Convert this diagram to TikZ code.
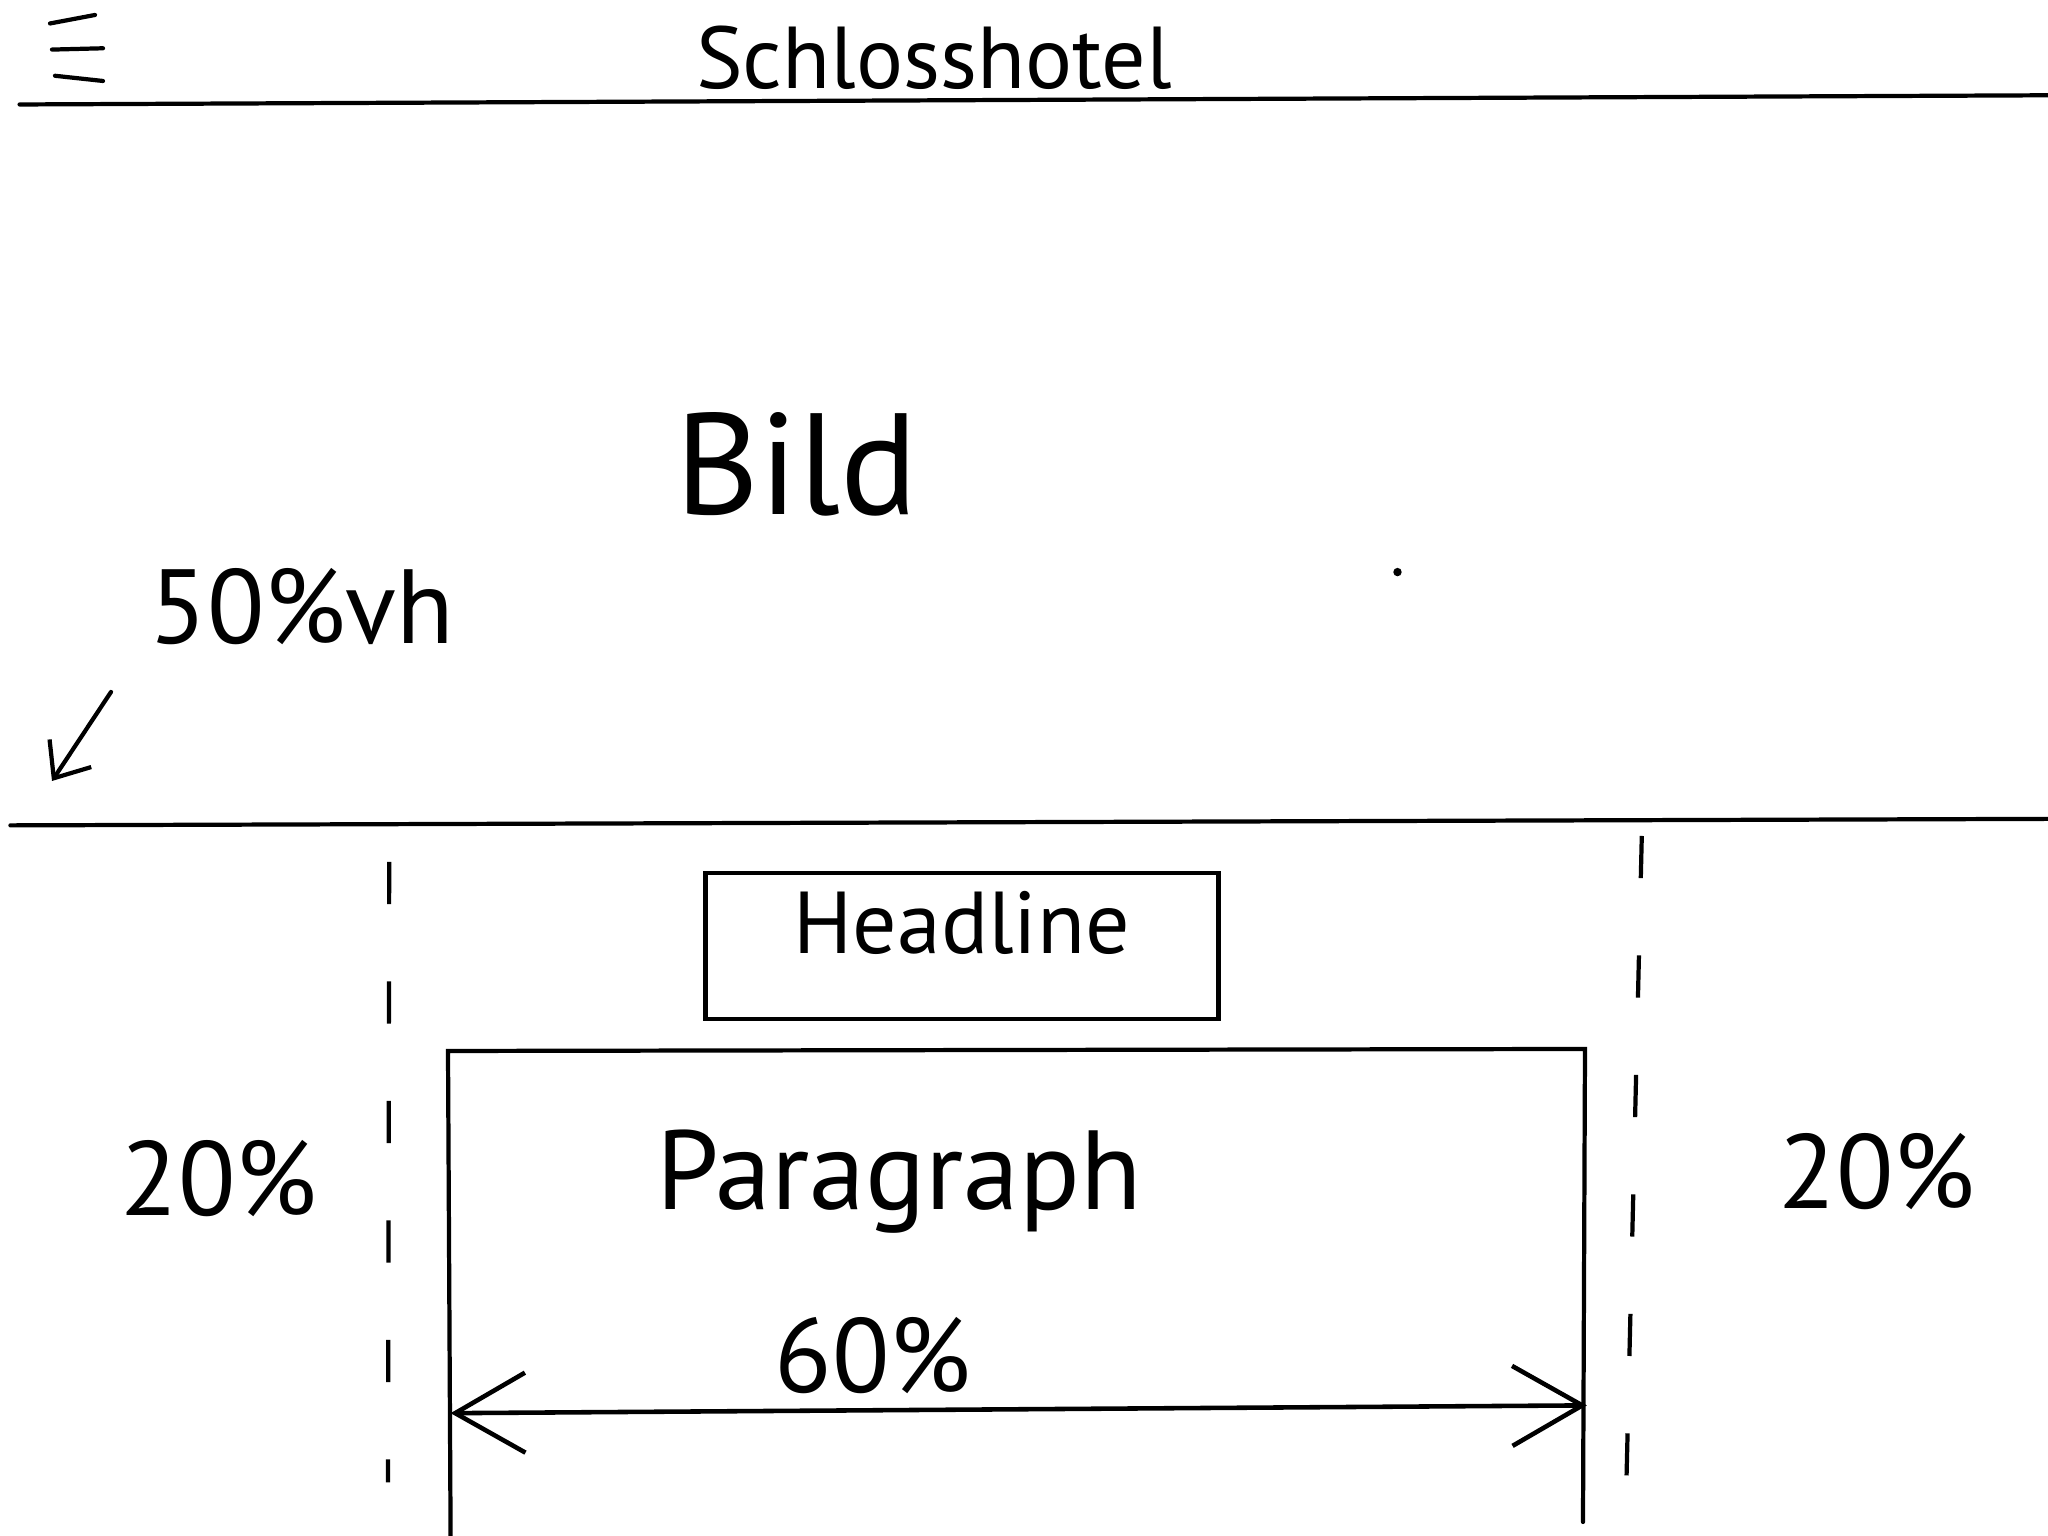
\documentclass[tikz,border=0pt]{standalone}
\usepackage{fontspec}
\setmainfont{PT Sans}
\usetikzlibrary{positioning}
\usetikzlibrary{arrows.meta}
\tikzset{
  wf_txt/.style = {align=center, inner sep=0pt, text centered},
  wf_t/.style = {wf_txt, font=\fontsize{25}{29}\selectfont},% titel
  wf_h/.style = {wf_txt, font=\fontsize{25}{29}\selectfont},% headline
  wf_b/.style = {wf_txt, font=\fontsize{41}{45}\selectfont},% bild
  wf_m/.style = {wf_txt, font=\fontsize{30}{34}\selectfont},% masse
  wf_p/.style = {wf_txt, font=\fontsize{32}{36}\selectfont},% paragraph
  wf_box/.style = {rectangle, draw=black, line width=1.2pt, inner sep=0pt,
    minimum width=5.13cm, minimum height=1.46cm},
  wf_rule/.style = {line width=1.2pt, line cap=round},
  wf_dash/.style = {line width=1.2pt, dash pattern=on 12pt off 22pt},
  wf_span/.style = {line width=1.3pt, {Straight Barb[length=7mm,width=8mm]}-{Straight Barb[length=7mm,width=8mm]}},
    }

\begin{document}
\begin{tikzpicture}
  \useasboundingbox (0,0) rectangle (20.48,15.36);
  % menu
  \foreach \von/\bis in {{(0.50,15.125)/(0.95,15.21)}, {(0.52,14.864)/(1.03,14.877)}, {(0.55,14.602)/(1.03,14.55)}}
  \draw[wf_rule] \von -- \bis;
  \node[wf_t] (hotel) at (9.34,14.78) {Schlosshotel};
  \draw[wf_rule] (0.196,14.315) -- (20.48,14.407);

  % bild
  \node[wf_b] (bild) at (7.97,10.72) {Bild};
  \node[wf_m] (vh) at (3.02,9.29) {50\%vh};
  \coordinate (va) at (1.11,8.44);
  \coordinate (vb) at (0.52,7.55);
  \draw[wf_rule, -{Straight Barb[length=3mm,width=5mm]}] (va) -- (vb);
  \fill (13.975,9.639) circle (1.2pt);
  \draw[wf_rule] (0.104,7.106) -- (20.48,7.171);

  % spalten
  \draw[wf_dash] (3.892,6.74) -- (3.880,0.536);
  \draw[wf_dash] (16.418,7.0) -- (16.261,0.405);
  \node[wf_m] (l20) at (2.19,3.57) {20\%};
  \node[wf_m] (r20) at (18.77,3.64) {20\%};

  % headline
  \node[wf_box] (headbox) at (9.62,5.90) {};
  \node[wf_h, below=0.2cm of headbox.north] (head) {Headline};

  % paragraph
  \draw[wf_rule] (4.506,0) -- (4.48,4.85) -- (15.85,4.87) -- (15.83,0.14);
  \node[wf_p] (para) at (8.99,3.54) {Paragraph};
  \node[wf_m] (p60) at (8.73,1.80) {60\%};
  \coordinate (pl) at (4.506,1.228);
  \coordinate (pr) at (15.869,1.306);
  \draw[wf_span] (pl) -- (pr);
  \end{tikzpicture}
\end{document}
